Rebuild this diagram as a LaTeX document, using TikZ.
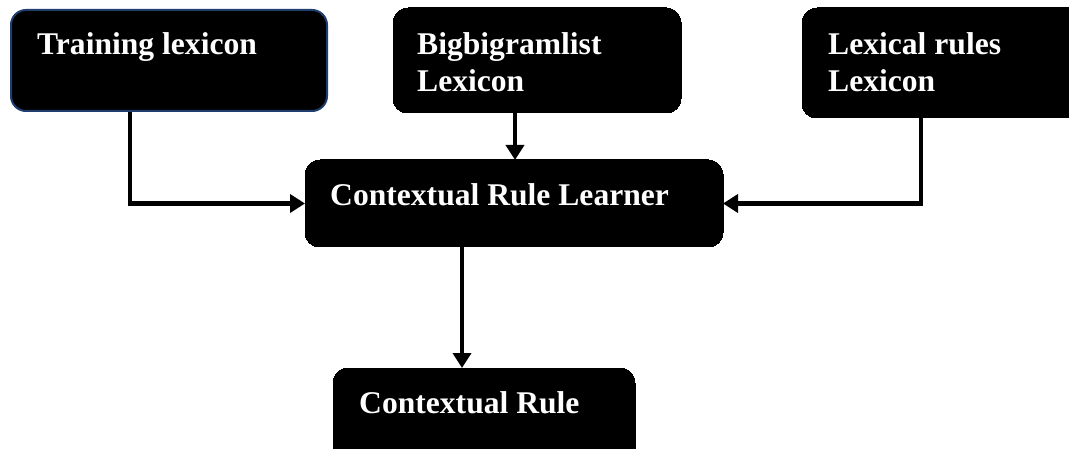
\documentclass[tikz,border=0pt]{standalone}
\usepackage{fontspec}
\setmainfont{Liberation Serif}
\usetikzlibrary{arrows.meta}
\begin{document}
\begin{tikzpicture}[x=1pt,y=-1pt,
  box/.style={draw=black,fill=black,rounded corners=15pt,line width=0pt,
    minimum width=#1,inner sep=0pt,anchor=north west},
  label/.style={text=white,inner sep=0pt,anchor=base west,align=left,
    font=\fontsize{31.6}{37}\selectfont\bfseries},
  arr/.style={line width=4.5pt,-{Triangle[length=15pt,width=18pt]}}]
\useasboundingbox (0,0) rectangle (1069,449);
\clip (0,0) rectangle (1069,449);
% input boxes
\node[box=316pt,minimum height=101pt,draw={rgb,255:red,31;green,62;blue,110},line width=2pt] (train) at (10,9) {};
\node[box=288pt,minimum height=105pt] (big) at (393,8) {};
\node[box=290pt,minimum height=110pt] (lex) at (802,8) {};
% learner and output
\node[box=418pt,minimum height=87pt] (learner) at (305,160) {};
\node[box=302pt,minimum height=100pt] (rule) at (333,368) {};
% texts (multi-line labels are placed by their last baseline)
\node[label] (t1) at (37,55) {Training lexicon};
\node[label] (t2) at (417,92) {Bigbigramlist\\Lexicon};
\node[label] (t3) at (828,92) {Lexical rules\\Lexicon};
\node[label] (t4) at (330,206) {Contextual Rule Learner};
\node[label] (t5) at (359,413) {Contextual Rule};
% connectors
\draw[arr] (train.south -| 130,0) |- (learner.west);
\draw[arr] (big.south -| 515,0) -- (learner.north -| 515,0);
\draw[arr] (lex.south -| 921,0) |- (learner.east);
\draw[arr] (learner.south -| 462,0) -- (rule.north -| 462,0);
\end{tikzpicture}
\end{document}
